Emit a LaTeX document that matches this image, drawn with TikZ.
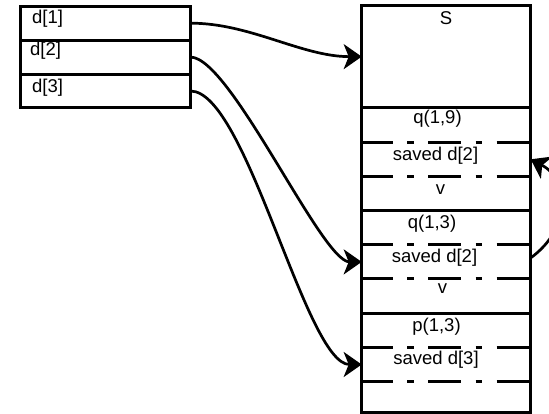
\documentclass[tikz,border=0pt]{standalone}
\usepackage{fontspec}
\setmainfont{Liberation Sans}
\usetikzlibrary{arrows.meta,positioning}
\tikzset{
	cell/.style={draw,line width=3pt,minimum width=170pt,minimum height=33.93pt,inner sep=0pt,outer sep=0pt},
	slot/.style={minimum width=169pt,minimum height=34.2pt,inner sep=0pt,outer sep=0pt},
	lbl/.style={inner sep=0pt,anchor=base,font=\fontsize{18.5}{22}\selectfont},
	solidsep/.style={line width=3pt},
	dashsep/.style={line width=3pt,dash pattern=on 33pt off 14.5pt on 6.5pt off 14.5pt,dash phase=2pt},
	link/.style={line width=2.7pt,-{Stealth[length=18pt,width=25pt,inset=5pt]}},
}
\begin{document}
\begin{tikzpicture}[x=1pt,y=-1pt]
		\clip (0,0) rectangle (549,414);
		\node[cell,anchor=north] (d1) at (105.5,6.2) {};
		\node[cell,below=0pt of d1] (d2) {};
		\node[cell,below=0pt of d2] (d3) {};
		\node[lbl,anchor=base west] (d1txt) at (32,23.5) {d[1]};
		\node[lbl,anchor=base west] (d2txt) at (30,56) {d[2]};
		\node[lbl,anchor=base west] (d3txt) at (32,93) {d[3]};
		\node[slot,minimum height=102.7pt,anchor=north] (sbox) at (446.2,5.3) {};
		\node[slot,below=0pt of sbox] (q19) {};
		\node[slot,below=0pt of q19] (q19saved) {};
		\node[slot,below=0pt of q19saved] (q19v) {};
		\node[slot,below=0pt of q19v] (q13) {};
		\node[slot,below=0pt of q13] (q13saved) {};
		\node[slot,below=0pt of q13saved] (q13v) {};
		\node[slot,below=0pt of q13v] (p13) {};
		\node[slot,below=0pt of p13] (p13saved) {};
		\node[slot,minimum height=30.9pt,below=0pt of p13saved] (p13end) {};
		\draw[solidsep] (sbox.north west) rectangle (p13end.south east);
		\foreach \s in {q19,q13,p13}
			\draw[solidsep] (\s.north west) -- (\s.north east);
		\foreach \s in {q19saved,q19v,q13saved,q13v,p13saved,p13end}
			\draw[dashsep] (\s.north west) -- (\s.north east);
		\node[lbl] (stxt) at (446,25) {S};
		\node[lbl] (q19txt) at (437.5,124) {q(1,9)};
		\node[lbl] (q19savedtxt) at (435.5,161) {saved d[2]};
		\node[lbl] (q19vtxt) at (440.5,195) {v};
		\node[lbl] (q13txt) at (432,229) {q(1,3)};
		\node[lbl] (q13savedtxt) at (434.5,262) {saved d[2]};
		\node[lbl] (q13vtxt) at (442.5,294) {v};
		\node[lbl] (p13txt) at (436.5,331) {p(1,3)};
		\node[lbl] (p13savedtxt) at (436,364) {saved d[3]};
		\draw[link] (d1.east) .. controls +(60,0) and +(-60,0) .. (sbox.west);
		\draw[link] (d2.east) .. controls +(40,0) and +(-40,0) .. (q13saved.west);
		\draw[link] (d3.east) .. controls +(56,0) and +(-56,0) .. (p13saved.west);
		\draw[link] ([yshift=4pt]q13saved.east) .. controls +(40,-29) and +(40,21) .. (q19saved.east);
	\end{tikzpicture}
\end{document}
